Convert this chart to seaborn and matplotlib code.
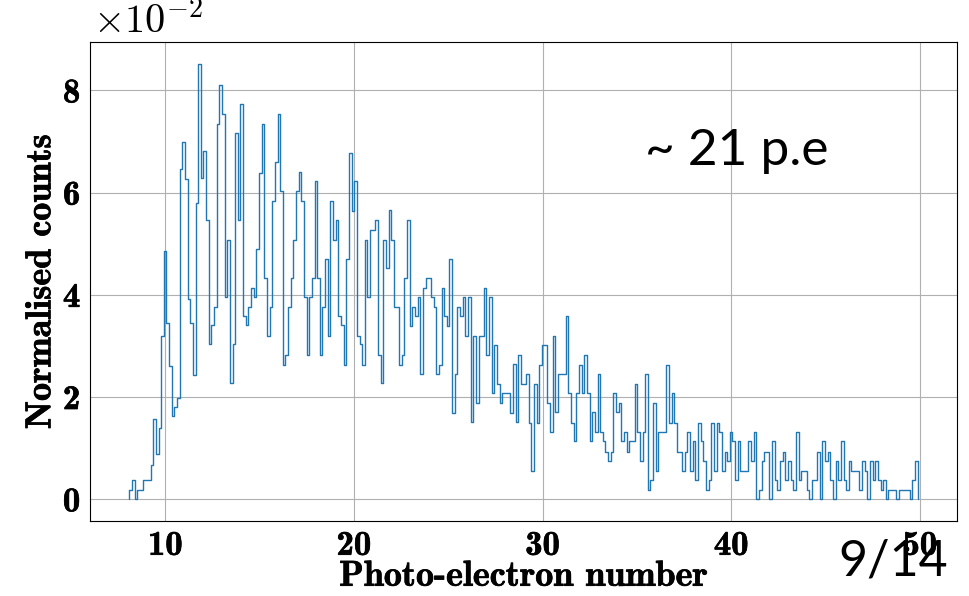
import numpy as np
import pandas as pd
import matplotlib
matplotlib.use("Agg")
import matplotlib.pyplot as plt
import matplotlib.patheffects as pe
import seaborn as sns

# ---- data ----
x_start = 8.10
x_end = 49.88
# normalised counts in units of 1e-2, one value per bin
counts_e2 = [
    0.18, 0.38, 0.00, 0.18, 0.18, 0.38, 0.38, 0.38, 0.67, 1.57,
    0.88, 1.39, 3.19, 4.86, 3.44, 2.61, 1.62, 1.80, 1.98, 6.47,
    6.99, 6.26, 3.92, 3.45, 2.44, 5.80, 8.52, 6.29, 6.82, 5.46,
    3.03, 3.40, 3.76, 7.34, 8.10, 7.54, 3.96, 5.08, 2.27, 3.03,
    7.16, 5.46, 7.73, 3.58, 3.40, 3.76, 4.14, 3.96, 4.90, 6.39,
    7.34, 4.33, 3.20, 3.76, 5.84, 6.59, 7.54, 6.03, 2.63, 2.83,
    3.76, 4.33, 5.08, 6.03, 6.41, 5.84, 3.96, 2.83, 3.96, 4.33,
    6.22, 4.33, 2.83, 3.76, 4.71, 3.20, 5.84, 5.08, 5.46, 3.58,
    3.40, 2.63, 4.71, 6.77, 5.64, 6.22, 3.20, 3.03, 2.63, 5.08,
    3.96, 5.27, 5.27, 5.46, 2.83, 2.27, 5.08, 4.52, 5.65, 5.08,
    3.76, 3.76, 2.63, 2.83, 4.33, 5.46, 3.39, 3.76, 3.58, 3.95,
    2.45, 4.14, 4.33, 4.33, 3.95, 3.76, 2.45, 2.63, 4.14, 3.58,
    3.39, 4.71, 1.69, 2.45, 3.76, 3.58, 3.95, 3.20, 3.95, 1.51,
    3.20, 1.88, 3.20, 3.20, 4.14, 2.83, 3.95, 2.08, 3.01, 2.26,
    1.88, 2.08, 2.08, 2.08, 1.69, 2.64, 1.51, 2.83, 2.26, 2.26,
    2.45, 1.50, 0.56, 2.26, 1.50, 2.63, 3.01, 3.01, 1.88, 1.31,
    3.20, 1.70, 2.45, 2.45, 2.45, 3.58, 2.08, 1.50, 1.13, 2.08,
    2.63, 2.08, 2.82, 2.08, 1.13, 1.70, 1.31, 2.45, 1.31, 1.13,
    0.93, 0.75, 0.93, 2.08, 1.70, 1.88, 1.13, 1.31, 0.93, 1.13,
    1.13, 2.26, 1.31, 0.75, 1.31, 2.45, 0.18, 0.38, 1.88, 0.56,
    1.31, 1.31, 1.31, 2.63, 1.50, 2.08, 1.50, 0.93, 0.93, 0.56,
    0.93, 1.31, 0.56, 1.13, 0.38, 1.50, 1.13, 0.75, 0.18, 0.38,
    1.50, 0.56, 1.50, 1.31, 0.56, 0.93, 0.75, 1.31, 1.13, 0.38,
    1.13, 0.56, 0.56, 0.56, 1.13, 0.75, 1.31, 0.00, 0.18, 0.75,
    0.93, 0.93, 0.00, 1.13, 0.38, 0.18, 0.75, 0.93, 0.38, 0.75,
    0.38, 0.18, 1.31, 0.38, 0.56, 0.56, 0.18, 0.00, 0.38, 0.38,
    0.93, 0.00, 1.13, 0.75, 0.93, 0.38, 0.00, 0.75, 0.38, 1.13,
    0.38, 0.18, 0.75, 0.56, 0.56, 0.56, 0.18, 0.75, 0.56, 0.00,
    0.75, 0.38, 0.75, 0.38, 0.18, 0.38, 0.00, 0.18, 0.18, 0.18,
    0.00, 0.18, 0.18, 0.18, 0.18, 0.00, 0.38, 0.75,
]
x_ticks = [10, 20, 30, 40, 50]
y_ticks = [0, 2, 4, 6, 8]
x_label = "Photo-electron number"
y_label = "Normalised counts"
note_text = "~ 21 p.e"
page_text = "9/14"

# ---- build table ----
n_bins = len(counts_e2)
edges = np.linspace(x_start, x_end, n_bins + 1)
centers = 0.5 * (edges[:-1] + edges[1:])
df = pd.DataFrame({"pe": centers, "w": counts_e2})

sns.set_style("white")
plt.rcParams["mathtext.fontset"] = "cm"
plt.rcParams["axes.unicode_minus"] = False
plt.rcParams["text.color"] = "black"
plt.rcParams["axes.labelcolor"] = "black"
plt.rcParams["xtick.color"] = "black"
plt.rcParams["ytick.color"] = "black"

fig = plt.figure(figsize=(9.70, 5.96), dpi=100)
ax = fig.add_axes([90 / 970, 75 / 596, 867 / 970, 479 / 596])

line_color = "#1f77b4"
sns.histplot(data=df, x="pe", weights="w", bins=n_bins,
             binrange=(x_start, x_end), element="step",
             fill=False, color=line_color, linewidth=1.0, ax=ax)
# closing verticals at both ends of the step outline (from the data)
ax.plot([edges[0], edges[0]], [0, counts_e2[0]], color=line_color, lw=1.0)
ax.plot([edges[-1], edges[-1]], [0, counts_e2[-1]], color=line_color, lw=1.0)

ymax = max(counts_e2)
ax.set_xlim(x_start - 0.05 * (x_end - x_start), x_end + 0.05 * (x_end - x_start))
ax.set_ylim(-0.05 * ymax, 1.05 * ymax)

bold = [pe.withStroke(linewidth=0.5, foreground="black")]
tick_font = dict(family="cmb10", size=25, color="black")
ax.set_xticks(x_ticks)
ax.set_xticklabels([str(t) for t in x_ticks], **tick_font)
ax.set_yticks(y_ticks)
ax.set_yticklabels([str(t) for t in y_ticks], **tick_font)
for lbl in ax.get_xticklabels() + ax.get_yticklabels():
    lbl.set_path_effects(bold)
ax.tick_params(axis="both", direction="out", length=4, width=0.8,
               colors="black", pad=3)

ax.grid(True, color="#b0b0b0", linewidth=0.8)
ax.set_axisbelow(True)
for s in ax.spines.values():
    s.set_color("black")
    s.set_linewidth(0.8)

xl = ax.set_xlabel(x_label, family="cmb10", size=26, labelpad=0, color="black")
yl = ax.set_ylabel(y_label, family="cmb10", size=26, labelpad=4, color="black")
xl.set_path_effects(bold)
yl.set_path_effects(bold)

ax.text(0.003, 1.0, r"$\times10^{-2}$", transform=ax.transAxes,
        ha="left", va="bottom", fontsize=29, color="black")

fig.text(645 / 970, 1 - 165 / 596, note_text, family="Lato", fontsize=37,
         ha="left", va="baseline", color="black")
fig.text(838 / 970, 1 - 575 / 596, page_text, family="Lato", fontsize=36,
         ha="left", va="baseline", color="black")

fig.savefig("out.png", dpi=100, facecolor="white")
